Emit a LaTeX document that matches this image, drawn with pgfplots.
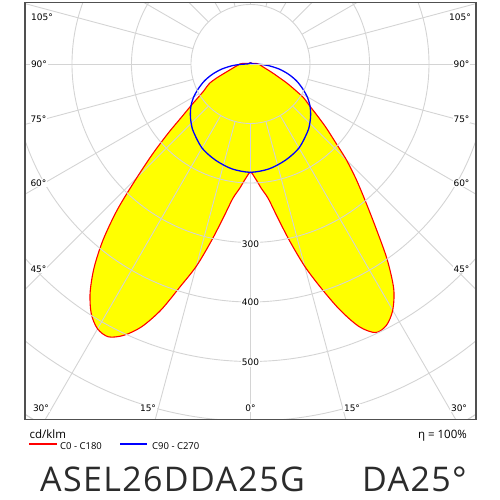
\documentclass[border=0pt]{standalone}
\usepackage{fontspec}
\setmainfont{Open Sans}
\newfontfamily\lblfont{DejaVu Sans}
\newfontfamily\bigfont[LetterSpace=4]{Open Sans}
\usepackage{pgfplots}
\pgfplotsset{compat=1.18}
\usepgfplotslibrary{polar}
\usepackage{pgfplotstable}
\definecolor{gridc}{HTML}{D4D4D4}
\definecolor{framec}{HTML}{505050}
\definecolor{txt}{HTML}{2B2B2B}
\definecolor{cred}{HTML}{FF0000}
\definecolor{cblue}{HTML}{0000FF}
\definecolor{cyel}{HTML}{FFFF00}

% C0 - C180 : polar angle (deg, ccw from +x), intensity cd/klm
\pgfplotstableread{
phi r
90 2
120 2
150 2.5
160 3
170 6
175 12
180 18
185 21
190 26
195 34
200 49
202.5 62
205 75
207.5 83
210 91
212.5 104
215 122
217.5 145
220 180
222.5 222
225 270
227.5 330
230 385
232.5 432
235 470
237.5 498
240 514
242.5 517
245 503
247.5 478
250 440
252.5 392
255 352
257.5 305
260 262
262.5 228
265 210
267.5 193
270 182
272.5 193
275 210
277.5 228
280 262
282.5 305
285 352
287.5 395
290 440
292.5 478
295 498
297.5 495
300 478
302.5 448
305 400
307.5 345
310 300
312.5 263
315 228
317.5 192
320 165
322.5 140
325 120
327.5 106
330 85
332.5 68
335 52
337.5 42
340 34
345 24
350 19
355 16
360 13
365 10
370 6
380 3
390 2.5
420 2
450 2
}\redtab

% C90 - C270
\pgfplotstableread{
phi r
90 2
150 2
170 3
175 4
180 6
182 15
185 30
190 49
195 66
200 82
205 96
210 110
215 122
220 132
225 141
230 149
240 163
250 172
260 179
270 182
280 179
290 172
300 163
310 149
315 141
320 132
325 122
330 110
335 96
340 82
345 66
350 49
355 30
358 15
360 6
365 4
370 3
390 2
450 2
}\bluetab

\begin{document}
\begin{tikzpicture}[x=1pt,y=1pt]
\useasboundingbox (0,0) rectangle (500,500);
\begin{scope}
\clip (25,80.5) rectangle (476,497.3);
\begin{polaraxis}[
  at={(250.5pt,436pt)}, anchor=center,
  scale only axis, width=833pt, height=833pt,
  ymin=0, ymax=700,
  xtick=\empty, ytick={100,200,...,700}, yticklabels={},
  ymajorgrids=true, xmajorgrids=false,
  major tick length=0pt,
  grid style={gridc, line width=0.9pt},
  axis line style={gridc, line width=0.9pt},
  axis on top,
]
\addplot[fill=cyel, draw=none, smooth] table[x=phi,y=r]{\redtab};
\pgfplotsinvokeforeach{0,15,...,345}{\draw[gridc, line width=0.9pt] (axis cs:#1,100) -- (axis cs:#1,800);}
\addplot[draw=cred, line width=1.1pt, smooth] table[x=phi,y=r]{\redtab};
\addplot[draw=cblue, line width=1.3pt, smooth] table[x=phi,y=r]{\bluetab};
\end{polaraxis}
\end{scope}
\draw[framec, line width=1.5pt] (25,80.5) rectangle (476,497.3);

% angle labels
\begin{scope}[every node/.style={font=\lblfont\fontsize{9}{10}\selectfont, fill=white, inner sep=1pt, text=black}]
\node at (42,483) {105°};
\node at (39,436) {90°};
\node at (38.5,381) {75°};
\node at (38.5,317) {60°};
\node at (38.5,231) {45°};
\node at (41,92) {30°};
\node at (148,92) {15°};
\node at (250.5,92) {0°};
\node at (352,92) {15°};
\node at (459,92) {30°};
\node at (461.5,231) {45°};
\node at (461.5,317) {60°};
\node at (461.5,381) {75°};
\node at (461.5,436) {90°};
\node at (460,483) {105°};
\node at (250.5,256) {300};
\node at (250.5,197.7) {400};
\node at (250.5,137.7) {500};
\end{scope}

% bottom texts
\node[anchor=base west, inner sep=0, font=\fontsize{11.5}{12}\selectfont] at (29.5,61.7) {cd/klm};
\node[anchor=base east, inner sep=0, font=\fontsize{11.5}{12}\selectfont] at (467,61.7) {η = 100\%};
\draw[draw=cred, line width=1.2pt] (29,56) -- (57,56);
\node[anchor=base west, inner sep=0, font=\fontsize{9.5}{10}\selectfont] at (60,50.5) {C0 - C180};
\draw[draw=cblue, line width=1.2pt] (120,56) -- (147,56);
\node[anchor=base west, inner sep=0, font=\fontsize{9.5}{10}\selectfont] at (152,50.5) {C90 - C270};
\node[anchor=base west, inner sep=0, text=txt, font=\bigfont\fontsize{34}{36}\selectfont] at (40,8.3) {ASEL26DDA25G};
\node[anchor=base west, inner sep=0, text=txt, font=\bigfont\fontsize{34}{36}\selectfont] at (362,8.3) {DA25°};
\end{tikzpicture}
\end{document}
